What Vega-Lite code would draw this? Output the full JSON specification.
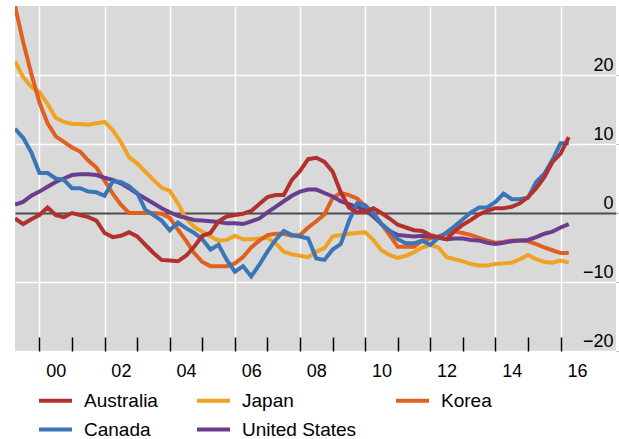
{
"$schema": "https://vega.github.io/schema/vega-lite/v6.json",
"width": 601, "height": 345,
"autosize": {"type": "none"},
"padding": {"left": 15, "top": 6, "right": 3, "bottom": 88},
"background": "white",
"config": {"view": {"fill": "#d9d9d9", "stroke": null}, "font": "Liberation Sans"},
"data": {"values": [
{"c":"Japan","t":1999.25,"v":22.0},{"c":"Japan","t":1999.5,"v":19.7},{"c":"Japan","t":1999.75,"v":18.3},{"c":"Japan","t":2000,"v":17.5},{"c":"Japan","t":2000.25,"v":15.8},{"c":"Japan","t":2000.5,"v":13.8},{"c":"Japan","t":2000.75,"v":13.2},{"c":"Japan","t":2001,"v":12.9},{"c":"Japan","t":2001.25,"v":12.9},{"c":"Japan","t":2001.5,"v":12.8},
{"c":"Japan","t":2001.75,"v":13.0},{"c":"Japan","t":2002,"v":13.2},{"c":"Japan","t":2002.25,"v":12.0},{"c":"Japan","t":2002.5,"v":10.3},{"c":"Japan","t":2002.75,"v":8.1},{"c":"Japan","t":2003,"v":7.2},{"c":"Japan","t":2003.25,"v":6.0},{"c":"Japan","t":2003.5,"v":4.8},{"c":"Japan","t":2003.75,"v":3.7},{"c":"Japan","t":2004,"v":3.2},
{"c":"Japan","t":2004.25,"v":1.4},{"c":"Japan","t":2004.5,"v":-0.8},{"c":"Japan","t":2004.75,"v":-2.0},{"c":"Japan","t":2005,"v":-2.7},{"c":"Japan","t":2005.25,"v":-3.4},{"c":"Japan","t":2005.5,"v":-4.0},{"c":"Japan","t":2005.75,"v":-3.9},{"c":"Japan","t":2006,"v":-3.3},{"c":"Japan","t":2006.25,"v":-3.8},{"c":"Japan","t":2006.5,"v":-3.8},
{"c":"Japan","t":2006.75,"v":-3.7},{"c":"Japan","t":2007,"v":-3.6},{"c":"Japan","t":2007.25,"v":-4.4},{"c":"Japan","t":2007.5,"v":-5.6},{"c":"Japan","t":2007.75,"v":-6.0},{"c":"Japan","t":2008,"v":-6.2},{"c":"Japan","t":2008.25,"v":-6.4},{"c":"Japan","t":2008.5,"v":-5.6},{"c":"Japan","t":2008.75,"v":-5.1},{"c":"Japan","t":2009,"v":-3.4},
{"c":"Japan","t":2009.25,"v":-3.2},{"c":"Japan","t":2009.5,"v":-3.0},{"c":"Japan","t":2009.75,"v":-2.9},{"c":"Japan","t":2010,"v":-2.8},{"c":"Japan","t":2010.25,"v":-3.9},{"c":"Japan","t":2010.5,"v":-5.4},{"c":"Japan","t":2010.75,"v":-6.1},{"c":"Japan","t":2011,"v":-6.5},{"c":"Japan","t":2011.25,"v":-6.2},{"c":"Japan","t":2011.5,"v":-5.7},
{"c":"Japan","t":2011.75,"v":-5.0},{"c":"Japan","t":2012,"v":-4.6},{"c":"Japan","t":2012.25,"v":-5.0},{"c":"Japan","t":2012.5,"v":-6.4},{"c":"Japan","t":2012.75,"v":-6.7},{"c":"Japan","t":2013,"v":-7.0},{"c":"Japan","t":2013.25,"v":-7.4},{"c":"Japan","t":2013.5,"v":-7.6},{"c":"Japan","t":2013.75,"v":-7.6},{"c":"Japan","t":2014,"v":-7.4},
{"c":"Japan","t":2014.25,"v":-7.3},{"c":"Japan","t":2014.5,"v":-7.2},{"c":"Japan","t":2014.75,"v":-6.7},{"c":"Japan","t":2015,"v":-6.1},{"c":"Japan","t":2015.25,"v":-6.7},{"c":"Japan","t":2015.5,"v":-7.1},{"c":"Japan","t":2015.75,"v":-7.2},{"c":"Japan","t":2016,"v":-6.9},{"c":"Japan","t":2016.25,"v":-7.2},

{"c":"Korea","t":1999.25,"v":30.0},{"c":"Korea","t":1999.5,"v":24.8},{"c":"Korea","t":1999.75,"v":20.2},{"c":"Korea","t":2000,"v":16.0},{"c":"Korea","t":2000.25,"v":13.0},{"c":"Korea","t":2000.5,"v":11.1},{"c":"Korea","t":2000.75,"v":10.3},{"c":"Korea","t":2001,"v":9.5},{"c":"Korea","t":2001.25,"v":8.9},{"c":"Korea","t":2001.5,"v":7.6},
{"c":"Korea","t":2001.75,"v":6.6},{"c":"Korea","t":2002,"v":4.7},{"c":"Korea","t":2002.25,"v":2.8},{"c":"Korea","t":2002.5,"v":1.2},{"c":"Korea","t":2002.75,"v":0.0},{"c":"Korea","t":2003,"v":0.0},{"c":"Korea","t":2003.25,"v":0.0},{"c":"Korea","t":2003.5,"v":0.0},{"c":"Korea","t":2003.75,"v":-0.1},{"c":"Korea","t":2004,"v":-0.7},
{"c":"Korea","t":2004.25,"v":-2.4},{"c":"Korea","t":2004.5,"v":-4.0},{"c":"Korea","t":2004.75,"v":-5.8},{"c":"Korea","t":2005,"v":-7.1},{"c":"Korea","t":2005.25,"v":-7.7},{"c":"Korea","t":2005.5,"v":-7.7},{"c":"Korea","t":2005.75,"v":-7.7},{"c":"Korea","t":2006,"v":-7.3},{"c":"Korea","t":2006.25,"v":-6.4},{"c":"Korea","t":2006.5,"v":-5.0},
{"c":"Korea","t":2006.75,"v":-4.0},{"c":"Korea","t":2007,"v":-3.2},{"c":"Korea","t":2007.25,"v":-3.0},{"c":"Korea","t":2007.5,"v":-3.0},{"c":"Korea","t":2007.75,"v":-3.3},{"c":"Korea","t":2008,"v":-3.2},{"c":"Korea","t":2008.25,"v":-2.1},{"c":"Korea","t":2008.5,"v":-1.2},{"c":"Korea","t":2008.75,"v":-0.2},{"c":"Korea","t":2009,"v":2.2},
{"c":"Korea","t":2009.25,"v":2.9},{"c":"Korea","t":2009.5,"v":2.6},{"c":"Korea","t":2009.75,"v":2.1},{"c":"Korea","t":2010,"v":1.0},{"c":"Korea","t":2010.25,"v":0.0},{"c":"Korea","t":2010.5,"v":-1.6},{"c":"Korea","t":2010.75,"v":-3.2},{"c":"Korea","t":2011,"v":-4.9},{"c":"Korea","t":2011.25,"v":-4.9},{"c":"Korea","t":2011.5,"v":-4.9},
{"c":"Korea","t":2011.75,"v":-4.0},{"c":"Korea","t":2012,"v":-3.7},{"c":"Korea","t":2012.25,"v":-3.4},{"c":"Korea","t":2012.5,"v":-3.0},{"c":"Korea","t":2012.75,"v":-2.7},{"c":"Korea","t":2013,"v":-2.9},{"c":"Korea","t":2013.25,"v":-3.2},{"c":"Korea","t":2013.5,"v":-3.6},{"c":"Korea","t":2013.75,"v":-4.0},{"c":"Korea","t":2014,"v":-4.3},
{"c":"Korea","t":2014.25,"v":-4.2},{"c":"Korea","t":2014.5,"v":-4.0},{"c":"Korea","t":2014.75,"v":-4.0},{"c":"Korea","t":2015,"v":-4.1},{"c":"Korea","t":2015.25,"v":-4.5},{"c":"Korea","t":2015.5,"v":-5.0},{"c":"Korea","t":2015.75,"v":-5.4},{"c":"Korea","t":2016,"v":-5.8},{"c":"Korea","t":2016.25,"v":-5.8},

{"c":"United States","t":1999.25,"v":1.2},{"c":"United States","t":1999.5,"v":1.6},{"c":"United States","t":1999.75,"v":2.5},{"c":"United States","t":2000,"v":3.1},{"c":"United States","t":2000.25,"v":3.8},{"c":"United States","t":2000.5,"v":4.5},{"c":"United States","t":2000.75,"v":5.0},{"c":"United States","t":2001,"v":5.5},{"c":"United States","t":2001.25,"v":5.6},{"c":"United States","t":2001.5,"v":5.6},
{"c":"United States","t":2001.75,"v":5.5},{"c":"United States","t":2002,"v":5.1},{"c":"United States","t":2002.25,"v":4.8},{"c":"United States","t":2002.5,"v":4.3},{"c":"United States","t":2002.75,"v":3.6},{"c":"United States","t":2003,"v":2.8},{"c":"United States","t":2003.25,"v":2.1},{"c":"United States","t":2003.5,"v":1.4},{"c":"United States","t":2003.75,"v":0.7},{"c":"United States","t":2004,"v":0.1},
{"c":"United States","t":2004.25,"v":-0.4},{"c":"United States","t":2004.5,"v":-0.7},{"c":"United States","t":2004.75,"v":-1.0},{"c":"United States","t":2005,"v":-1.1},{"c":"United States","t":2005.25,"v":-1.2},{"c":"United States","t":2005.5,"v":-1.3},{"c":"United States","t":2005.75,"v":-1.5},{"c":"United States","t":2006,"v":-1.5},{"c":"United States","t":2006.25,"v":-1.6},{"c":"United States","t":2006.5,"v":-1.2},
{"c":"United States","t":2006.75,"v":-0.8},{"c":"United States","t":2007,"v":0.1},{"c":"United States","t":2007.25,"v":0.9},{"c":"United States","t":2007.5,"v":1.7},{"c":"United States","t":2007.75,"v":2.5},{"c":"United States","t":2008,"v":3.1},{"c":"United States","t":2008.25,"v":3.4},{"c":"United States","t":2008.5,"v":3.4},{"c":"United States","t":2008.75,"v":2.9},{"c":"United States","t":2009,"v":2.4},
{"c":"United States","t":2009.25,"v":1.7},{"c":"United States","t":2009.5,"v":1.3},{"c":"United States","t":2009.75,"v":0.9},{"c":"United States","t":2010,"v":0.4},{"c":"United States","t":2010.25,"v":-0.5},{"c":"United States","t":2010.5,"v":-1.6},{"c":"United States","t":2010.75,"v":-2.6},{"c":"United States","t":2011,"v":-3.2},{"c":"United States","t":2011.25,"v":-3.3},{"c":"United States","t":2011.5,"v":-3.4},
{"c":"United States","t":2011.75,"v":-3.3},{"c":"United States","t":2012,"v":-3.4},{"c":"United States","t":2012.25,"v":-3.6},{"c":"United States","t":2012.5,"v":-3.8},{"c":"United States","t":2012.75,"v":-3.7},{"c":"United States","t":2013,"v":-3.7},{"c":"United States","t":2013.25,"v":-3.9},{"c":"United States","t":2013.5,"v":-4.0},{"c":"United States","t":2013.75,"v":-4.3},{"c":"United States","t":2014,"v":-4.5},
{"c":"United States","t":2014.25,"v":-4.3},{"c":"United States","t":2014.5,"v":-4.1},{"c":"United States","t":2014.75,"v":-4.0},{"c":"United States","t":2015,"v":-3.9},{"c":"United States","t":2015.25,"v":-3.5},{"c":"United States","t":2015.5,"v":-3.0},{"c":"United States","t":2015.75,"v":-2.7},{"c":"United States","t":2016,"v":-2.1},{"c":"United States","t":2016.25,"v":-1.6},

{"c":"Canada","t":1999.25,"v":12.2},{"c":"Canada","t":1999.5,"v":10.9},{"c":"Canada","t":1999.75,"v":8.8},{"c":"Canada","t":2000,"v":5.8},{"c":"Canada","t":2000.25,"v":5.8},{"c":"Canada","t":2000.5,"v":5.0},{"c":"Canada","t":2000.75,"v":4.8},{"c":"Canada","t":2001,"v":3.6},{"c":"Canada","t":2001.25,"v":3.6},{"c":"Canada","t":2001.5,"v":3.1},
{"c":"Canada","t":2001.75,"v":3.0},{"c":"Canada","t":2002,"v":2.5},{"c":"Canada","t":2002.25,"v":4.6},{"c":"Canada","t":2002.5,"v":4.5},{"c":"Canada","t":2002.75,"v":3.9},{"c":"Canada","t":2003,"v":2.9},{"c":"Canada","t":2003.25,"v":0.5},{"c":"Canada","t":2003.5,"v":-0.3},{"c":"Canada","t":2003.75,"v":-1.1},{"c":"Canada","t":2004,"v":-2.5},
{"c":"Canada","t":2004.25,"v":-1.4},{"c":"Canada","t":2004.5,"v":-2.2},{"c":"Canada","t":2004.75,"v":-2.9},{"c":"Canada","t":2005,"v":-3.8},{"c":"Canada","t":2005.25,"v":-5.3},{"c":"Canada","t":2005.5,"v":-4.6},{"c":"Canada","t":2005.75,"v":-6.8},{"c":"Canada","t":2006,"v":-8.5},{"c":"Canada","t":2006.25,"v":-7.7},{"c":"Canada","t":2006.5,"v":-9.2},
{"c":"Canada","t":2006.75,"v":-7.5},{"c":"Canada","t":2007,"v":-5.6},{"c":"Canada","t":2007.25,"v":-3.9},{"c":"Canada","t":2007.5,"v":-2.6},{"c":"Canada","t":2007.75,"v":-3.2},{"c":"Canada","t":2008,"v":-3.4},{"c":"Canada","t":2008.25,"v":-3.7},{"c":"Canada","t":2008.5,"v":-6.6},{"c":"Canada","t":2008.75,"v":-6.8},{"c":"Canada","t":2009,"v":-5.3},
{"c":"Canada","t":2009.25,"v":-4.5},{"c":"Canada","t":2009.5,"v":-1.2},{"c":"Canada","t":2009.75,"v":1.4},{"c":"Canada","t":2010,"v":1.1},{"c":"Canada","t":2010.25,"v":-0.1},{"c":"Canada","t":2010.5,"v":-1.6},{"c":"Canada","t":2010.75,"v":-2.6},{"c":"Canada","t":2011,"v":-3.8},{"c":"Canada","t":2011.25,"v":-4.4},{"c":"Canada","t":2011.5,"v":-4.4},
{"c":"Canada","t":2011.75,"v":-4.0},{"c":"Canada","t":2012,"v":-4.6},{"c":"Canada","t":2012.25,"v":-3.6},{"c":"Canada","t":2012.5,"v":-2.8},{"c":"Canada","t":2012.75,"v":-1.9},{"c":"Canada","t":2013,"v":-0.9},{"c":"Canada","t":2013.25,"v":0.1},{"c":"Canada","t":2013.5,"v":0.8},{"c":"Canada","t":2013.75,"v":0.8},{"c":"Canada","t":2014,"v":1.6},
{"c":"Canada","t":2014.25,"v":2.8},{"c":"Canada","t":2014.5,"v":2.0},{"c":"Canada","t":2014.75,"v":2.0},{"c":"Canada","t":2015,"v":2.2},{"c":"Canada","t":2015.25,"v":4.5},{"c":"Canada","t":2015.5,"v":5.7},{"c":"Canada","t":2015.75,"v":7.7},{"c":"Canada","t":2016,"v":10.1},{"c":"Canada","t":2016.25,"v":10.1},

{"c":"Australia","t":1999.25,"v":-0.8},{"c":"Australia","t":1999.5,"v":-1.6},{"c":"Australia","t":1999.75,"v":-0.9},{"c":"Australia","t":2000,"v":-0.3},{"c":"Australia","t":2000.25,"v":0.8},{"c":"Australia","t":2000.5,"v":-0.3},{"c":"Australia","t":2000.75,"v":-0.6},{"c":"Australia","t":2001,"v":0.0},{"c":"Australia","t":2001.25,"v":-0.3},{"c":"Australia","t":2001.5,"v":-0.6},
{"c":"Australia","t":2001.75,"v":-1.1},{"c":"Australia","t":2002,"v":-2.9},{"c":"Australia","t":2002.25,"v":-3.5},{"c":"Australia","t":2002.5,"v":-3.3},{"c":"Australia","t":2002.75,"v":-2.8},{"c":"Australia","t":2003,"v":-3.4},{"c":"Australia","t":2003.25,"v":-4.6},{"c":"Australia","t":2003.5,"v":-5.8},{"c":"Australia","t":2003.75,"v":-6.8},{"c":"Australia","t":2004,"v":-6.9},
{"c":"Australia","t":2004.25,"v":-7.0},{"c":"Australia","t":2004.5,"v":-6.2},{"c":"Australia","t":2004.75,"v":-4.9},{"c":"Australia","t":2005,"v":-3.3},{"c":"Australia","t":2005.25,"v":-2.9},{"c":"Australia","t":2005.5,"v":-1.2},{"c":"Australia","t":2005.75,"v":-0.5},{"c":"Australia","t":2006,"v":-0.3},{"c":"Australia","t":2006.25,"v":-0.1},{"c":"Australia","t":2006.5,"v":0.3},
{"c":"Australia","t":2006.75,"v":1.3},{"c":"Australia","t":2007,"v":2.3},{"c":"Australia","t":2007.25,"v":2.6},{"c":"Australia","t":2007.5,"v":2.6},{"c":"Australia","t":2007.75,"v":4.8},{"c":"Australia","t":2008,"v":6.1},{"c":"Australia","t":2008.25,"v":7.8},{"c":"Australia","t":2008.5,"v":8.0},{"c":"Australia","t":2008.75,"v":7.4},{"c":"Australia","t":2009,"v":6.0},
{"c":"Australia","t":2009.25,"v":3.0},{"c":"Australia","t":2009.5,"v":0.8},{"c":"Australia","t":2009.75,"v":0.1},{"c":"Australia","t":2010,"v":0.2},{"c":"Australia","t":2010.25,"v":0.7},{"c":"Australia","t":2010.5,"v":0.0},{"c":"Australia","t":2010.75,"v":-0.8},{"c":"Australia","t":2011,"v":-1.7},{"c":"Australia","t":2011.25,"v":-2.1},{"c":"Australia","t":2011.5,"v":-2.5},
{"c":"Australia","t":2011.75,"v":-2.6},{"c":"Australia","t":2012,"v":-3.2},{"c":"Australia","t":2012.25,"v":-3.5},{"c":"Australia","t":2012.5,"v":-3.8},{"c":"Australia","t":2012.75,"v":-2.6},{"c":"Australia","t":2013,"v":-1.7},{"c":"Australia","t":2013.25,"v":-1.0},{"c":"Australia","t":2013.5,"v":-0.2},{"c":"Australia","t":2013.75,"v":0.3},{"c":"Australia","t":2014,"v":0.7},
{"c":"Australia","t":2014.25,"v":0.7},{"c":"Australia","t":2014.5,"v":0.9},{"c":"Australia","t":2014.75,"v":1.4},{"c":"Australia","t":2015,"v":2.3},{"c":"Australia","t":2015.25,"v":3.6},{"c":"Australia","t":2015.5,"v":5.2},{"c":"Australia","t":2015.75,"v":7.4},{"c":"Australia","t":2016,"v":8.6},{"c":"Australia","t":2016.25,"v":11.0}
]},
"mark": {"type": "line", "strokeWidth": 4, "clip": true},
"encoding": {
  "x": {"field": "t", "type": "quantitative",
    "scale": {"domain": [1999.25, 2017.7], "nice": false, "zero": false},
    "axis": {"title": null,
      "values": [2000,2001,2002,2003,2004,2005,2006,2007,2008,2009,2010,2011,2012,2013,2014,2015,2016],
      "grid": true, "gridColor": "white", "gridWidth": 1.5,
      "gridOpacity": {"condition": {"test": "datum.value % 2 == 1", "value": 0}, "value": 1},
      "domain": false, "ticks": true, "tickSize": -14, "tickColor": "#000000", "tickWidth": 1.5,
      "labelOffset": 16.3, "labelPadding": 25, "labelFlush": false, "labelOverlap": false,
      "labelExpr": "datum.value % 2 == 0 ? slice('0' + (datum.value - 2000), -2) : ''",
      "labelFontSize": 18, "labelColor": "#000000"}},
  "y": {"field": "v", "type": "quantitative",
    "scale": {"domain": [-20, 30], "nice": false, "zero": false},
    "axis": {"title": null, "orient": "right", "values": [-20, -10, 0, 10, 20],
      "grid": true,
      "gridColor": {"condition": {"test": "datum.value === 0", "value": "#4d4d4d"}, "value": "white"},
      "gridWidth": {"condition": {"test": "datum.value === 0", "value": 2}, "value": 1.5},
      "domain": false, "ticks": true, "tickSize": 3, "tickColor": "#bbbbbb",
      "labelAlign": "right", "labelBaseline": "alphabetic", "labelOffset": -5, "labelPadding": -6,
      "labelFontSize": 18, "labelColor": "#000000",
      "labelExpr": "replace(datum.label, '-', '−')"}},
  "color": {"field": "c", "type": "nominal",
    "scale": {"domain": ["Australia", "Canada", "Japan", "United States", "Korea"],
      "range": ["#b2312e", "#3a75b8", "#f0a323", "#6a3d8f", "#e0601f"]},
    "legend": {"title": null, "orient": "none", "legendX": 22, "legendY": 376, "columns": 3,
      "symbolType": "stroke", "symbolSize": 1089, "symbolStrokeWidth": 4,
      "labelFontSize": 19, "labelColor": "#000000", "labelOffset": 10,
      "columnPadding": 31, "rowPadding": 0, "padding": 0}}
}
}
